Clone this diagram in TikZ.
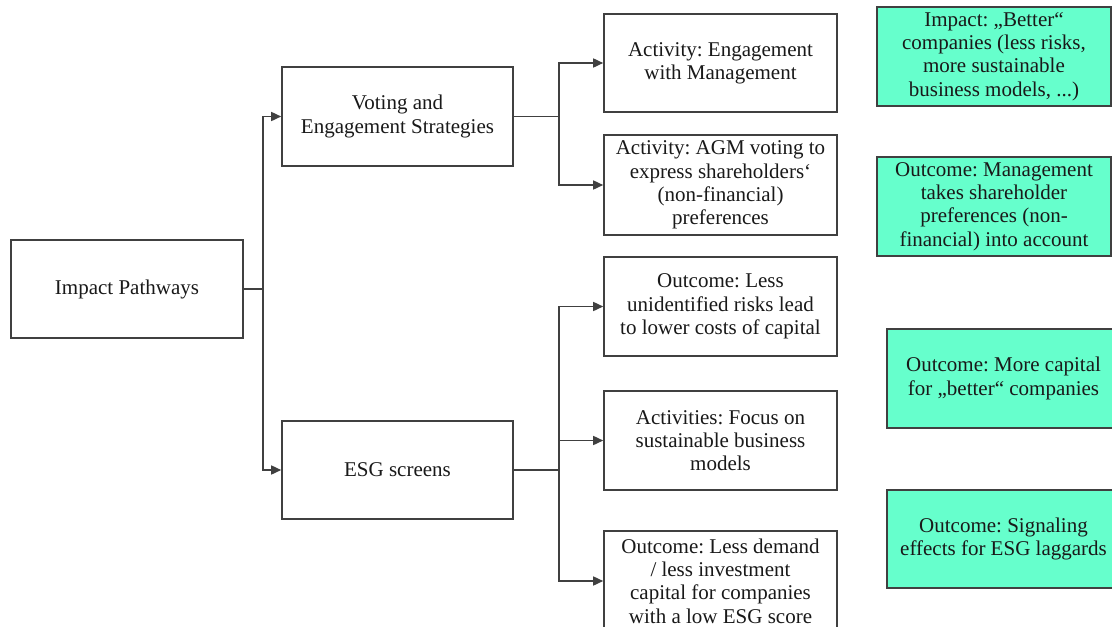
\documentclass[tikz,border=0pt]{standalone}
\usepackage{fontspec}
\setmainfont{Liberation Serif}
\usetikzlibrary{arrows.meta}
\definecolor{boxgreen}{RGB}{102,255,204}
\definecolor{linegray}{RGB}{64,64,64}
\definecolor{txtcol}{RGB}{25,25,25}
\begin{document}
\frenchspacing
\begin{tikzpicture}[x=1pt,y=-1pt,
  box/.style={draw=linegray,line width=1.6pt,fill=white,minimum width=#1,minimum height=99pt,
     inner sep=0pt,align=center,text=txtcol,font=\fontsize{21}{23.3}\selectfont},
  box/.default=232pt,
  gbox/.style={box=#1,fill=boxgreen},
  gbox/.default=234pt,
  conn/.style={draw=linegray,line width=1.6pt},
  arr/.style={conn,-{Triangle[length=10pt,width=9pt]}}]
\useasboundingbox (0,0) rectangle (1112,627);
\clip (0,0) rectangle (1112,627);
\fill[white] (0,0) rectangle (1112,627);
% left column
\node[box=232pt,minimum height=98pt] (ip) at (127,289) {Impact Pathways};
\node[box=231pt] (ves) at (397.5,116.5) {Voting and\\Engagement Strategies};
\node[box=231pt,minimum height=98pt] (esg) at (397.5,470) {ESG screens};
% middle column
\node[box=233pt,minimum height=98pt] (a1) at (720.5,63) {Activity: Engagement\\with Management};
\node[box=233pt,minimum height=100pt] (a2) at (720.5,185) {Activity: AGM voting to\\express shareholders‘\\(non-financial)\\preferences};
\node[box=233pt] (o1) at (720.5,306.5) {Outcome: Less\\unidentified risks lead\\to lower costs of capital};
\node[box=233pt] (a3) at (720.5,440.5) {Activities: Focus on\\sustainable business\\models};
\node[box=233pt,minimum height=100pt] (o2) at (720.5,581) {Outcome: Less demand\\/ less investment\\capital for companies\\with a low ESG score};
% green column
\node[gbox=234pt] (g1) at (994,56.5) {Impact: „Better“\\companies (less risks,\\more sustainable\\business models, ...)};
\node[gbox=234pt] (g2) at (994,206.5) {Outcome: Management\\takes shareholder\\preferences (non-\\financial) into account};
\node[gbox=233pt] (g3) at (1003.5,378.5) {Outcome: More capital\\for „better“ companies};
\node[gbox=233pt,minimum height=98pt] (g4) at (1003.5,539) {Outcome: Signaling\\effects for ESG laggards};
% junctions
\coordinate (j1) at (263,289);
\coordinate (j2) at (559,116.5);
\coordinate (j3) at (559,470);
% connectors
\draw[conn] (ip.east) -- (j1);
\draw[arr] (j1) |- (ves.west);
\draw[arr] (j1) |- (esg.west);
\draw[conn] (ves.east) -- (j2);
\draw[arr] (j2) |- (a1.west);
\draw[arr] (j2) |- (a2.west);
\draw[conn] (esg.east) -- (j3);
\draw[arr] (j3) |- (o1.west);
\draw[arr] (j3) |- (a3.west);
\draw[arr] (j3) |- (o2.west);
\end{tikzpicture}
\end{document}
